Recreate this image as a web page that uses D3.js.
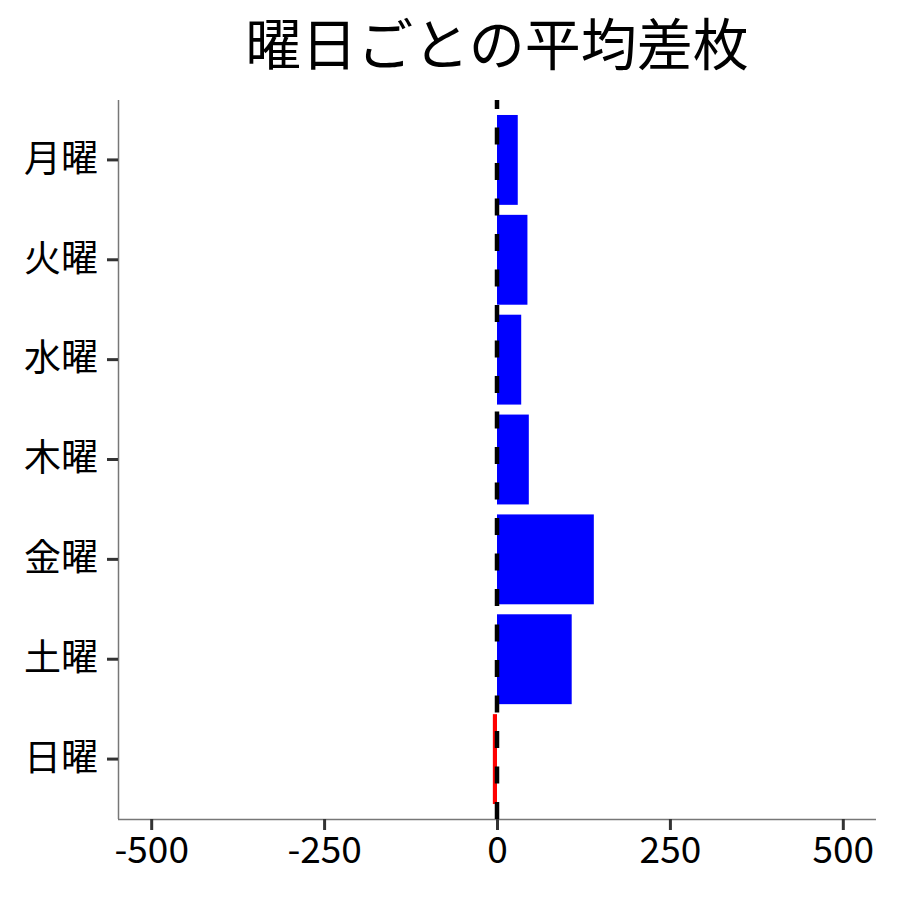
<!DOCTYPE html>
<html><head><meta charset="utf-8">
<script src="https://cdn.jsdelivr.net/npm/d3@7"></script>
<style>body{margin:0;background:#fff;} text{font-family:"Noto Sans CJK JP","Noto Sans",sans-serif;}</style>
</head><body>
<svg id="c" width="900" height="900"></svg>
<script>
const title = "曜日ごとの平均差枚";
const days = ["月曜","火曜","水曜","木曜","金曜","土曜","日曜"];
const values = [30, 44, 35, 46, 140, 108, -6];
const xTicks = [-500, -250, 0, 250, 500];

const svg = d3.select("#c");
const L = 118, R = 876, T = 100, B = 819;
const x = d3.scaleLinear().domain([-548, 548]).range([L, R]);
const y = d3.scaleBand().domain(days).range([T, B]).paddingInner(0.1).paddingOuter(0.15);

svg.append("rect").attr("width",900).attr("height",900).attr("fill","#fff");

svg.selectAll("rect.bar").data(days).enter().append("rect")
  .attr("class","bar")
  .attr("x", (d,i) => x(Math.min(0, values[i])))
  .attr("width", (d,i) => Math.abs(x(values[i]) - x(0)))
  .attr("y", d => y(d))
  .attr("height", y.bandwidth())
  .attr("fill", (d,i) => values[i] >= 0 ? "#0000FF" : "#FF0000");

// axes
const xAxis = svg.append("g").attr("transform", `translate(0,${B})`)
  .call(d3.axisBottom(x).tickValues(xTicks).tickSize(11).tickPadding(7).tickFormat(d => String(d)));
const yAxis = svg.append("g").attr("transform", `translate(${L},0)`)
  .call(d3.axisLeft(y).tickSize(11).tickPadding(9));
[xAxis, yAxis].forEach(g => {
  g.select(".domain").attr("stroke", "#777").attr("stroke-width", 1.5);
  g.selectAll(".tick line").attr("stroke", "#333").attr("stroke-width", 3);
  g.selectAll(".tick text").attr("fill", "#000").style("font-size", "37px")
    .style("font-family", '"Noto Sans CJK JP","Noto Sans",sans-serif');
});
xAxis.select(".domain").attr("d", `M${L},0.5H${R}`);
yAxis.select(".domain").attr("d", `M0.5,${T}V${B}`);

// zero reference line
svg.append("line")
  .attr("x1", x(0)).attr("x2", x(0)).attr("y1", T).attr("y2", B)
  .attr("stroke", "#000").attr("stroke-width", 4.5)
  .attr("stroke-dasharray", "17,18.5").attr("stroke-dashoffset", 8);

svg.append("text").attr("x", (L+R)/2).attr("y", 65).attr("text-anchor","middle")
  .style("font-size","56px").attr("fill","#000").text(title);
</script>
</body></html>
